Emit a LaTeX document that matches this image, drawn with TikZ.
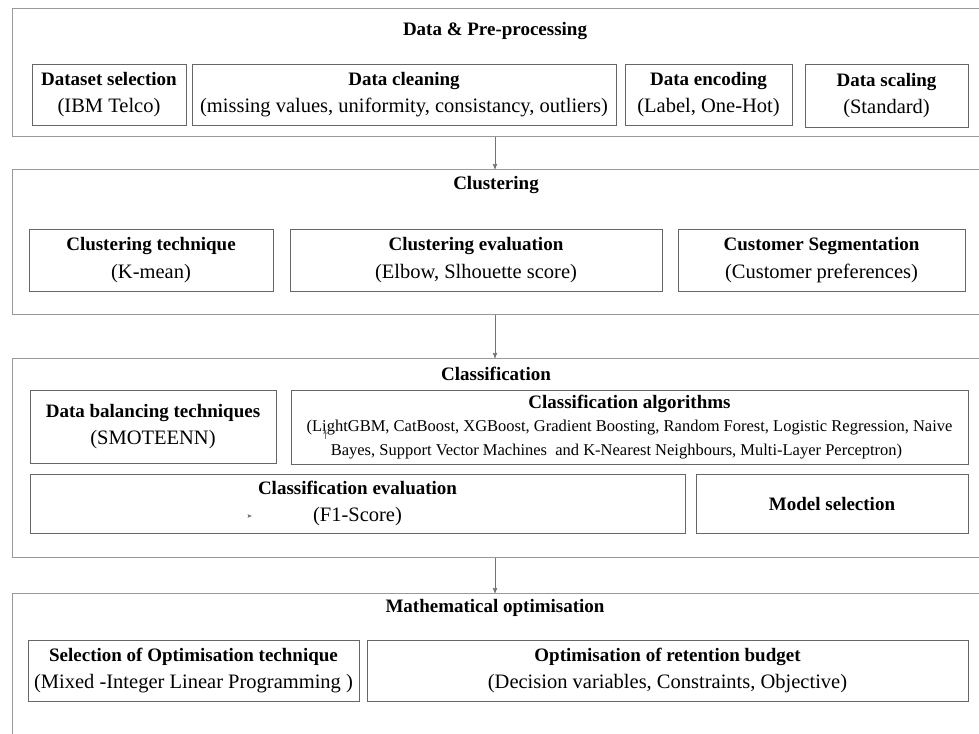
\documentclass[tikz,border=0pt]{standalone}
\usepackage{fontspec}
\setmainfont{Liberation Serif}
\usetikzlibrary{arrows, positioning}
\newcommand{\head}[1]{{\fontsize{19}{27.5}\selectfont\bfseries #1}}

\begin{document}
\begin{tikzpicture}[x=1pt,y=-1pt]
 \tikzstyle{stage}=[rectangle,draw=black!40,line width=0.9pt,anchor=north west,
   inner sep=0pt,minimum width=988pt]
 \tikzstyle{stagetitle}=[font=\fontsize{19}{23}\selectfont\bfseries]
 \tikzstyle{task}=[rectangle,draw=black!60,line width=0.8pt,align=center,
   inner sep=0pt,font=\fontsize{20.5}{27.5}\selectfont]
 \tikzstyle{flow}=[->,>=stealth',draw=black!55,line width=0.9pt]
 \useasboundingbox (0,0) rectangle (979,733);
 \clip (0,0) rectangle (979,733);
 % data and pre-processing
 \node (prep) [stage,minimum height=128pt] at (12,8) {};
 \node (preptitle) [stagetitle] at (495,31) {Data \& Pre-processing};
 \node (dataset) [task,minimum width=154pt,minimum height=61pt] at (109,94.5)
   {\head{Dataset selection}\\(IBM Telco)};
 \node (clean) [task,minimum width=424pt,minimum height=61pt] at (404,94.5)
   {\head{Data cleaning}\\(missing values, uniformity, consistancy, outliers)};
 \node (encode) [task,minimum width=167pt,minimum height=61pt] at (708.5,94.5)
   {\head{Data encoding}\\(Label, One-Hot)};
 \node (scale) [task,minimum width=163pt,minimum height=63pt] at (886.5,95.5)
   {\head{Data scaling}\\(Standard)};
 % clustering
 \node (clus) [stage,minimum height=145pt] at (12,169) {};
 \node (clustitle) [stagetitle] at (496,185) {Clustering};
 \node (kmean) [task,minimum width=244pt,minimum height=62pt] at (151,260)
   {\head{Clustering technique}\\(K-mean)};
 \node (clseval) [task,minimum width=372pt,minimum height=62pt] at (476,260)
   {\head{Clustering evaluation}\\(Elbow, Slhouette score)};
 \node (segment) [task,minimum width=287pt,minimum height=62pt] at (821.5,260)
   {\head{Customer Segmentation}\\(Customer preferences)};
 % classification
 \node (clas) [stage,minimum height=199pt] at (12,358) {};
 \node (clastitle) [stagetitle] at (496,374) {Classification};
 \node (balance) [task,minimum width=246pt,minimum height=73pt] at (153,426.5)
   {\head{Data balancing techniques}\\(SMOTEENN)};
 \node (algos) [task,minimum width=677pt,minimum height=74pt,
   font=\fontsize{16.5}{23.5}\selectfont] at (629.5,427)
   {\head{Classification algorithms}\\(LightGBM, CatBoost, XGBoost, Gradient Boosting, Random Forest, Logistic Regression, Naive\\
   Bayes, Support Vector Machines~ and K-Nearest Neighbours, Multi-Layer Perceptron)\hspace*{26pt}};
 \node (claseval) [task,minimum width=655pt,minimum height=59pt] at (357.5,503.5)
   {\head{Classification evaluation}\\(F1-Score)};
 \node (modelsel) [task,minimum width=272pt,minimum height=59pt] at (832,503.5)
   {\head{Model selection}};
 % mathematical optimisation
 \node (optim) [stage,minimum height=170pt] at (12,593) {};
 \node (optimtitle) [stagetitle] at (495,608) {Mathematical optimisation};
 \node (milp) [task,minimum width=331pt,minimum height=61pt] at (193.5,670.5)
   {\head{Selection of Optimisation technique}\\(Mixed -Integer Linear Programming )};
 \node (budget) [task,minimum width=601pt,minimum height=61pt] at (667.5,670.5)
   {\head{Optimisation of retention budget}\\(Decision variables, Constraints, Objective)};
 % stray marks
 \coordinate (strayA) at (325,439);
 \coordinate (strayB) at (325,430);
 \coordinate (strayC) at (248.5,516);
 \coordinate (strayD) at (251.5,516);
 \draw[flow,line width=0.5pt] (strayA) -- (strayB);
 \draw[flow,line width=0.5pt] (strayC) -- (strayD);
 % flow between stages
 \draw[flow] (prep.south -| preptitle) -- (clus.north -| preptitle);
 \draw[flow] (clus.south -| preptitle) -- (clas.north -| preptitle);
 \draw[flow] (clas.south -| preptitle) -- (optim.north -| preptitle);
\end{tikzpicture}
\end{document}
